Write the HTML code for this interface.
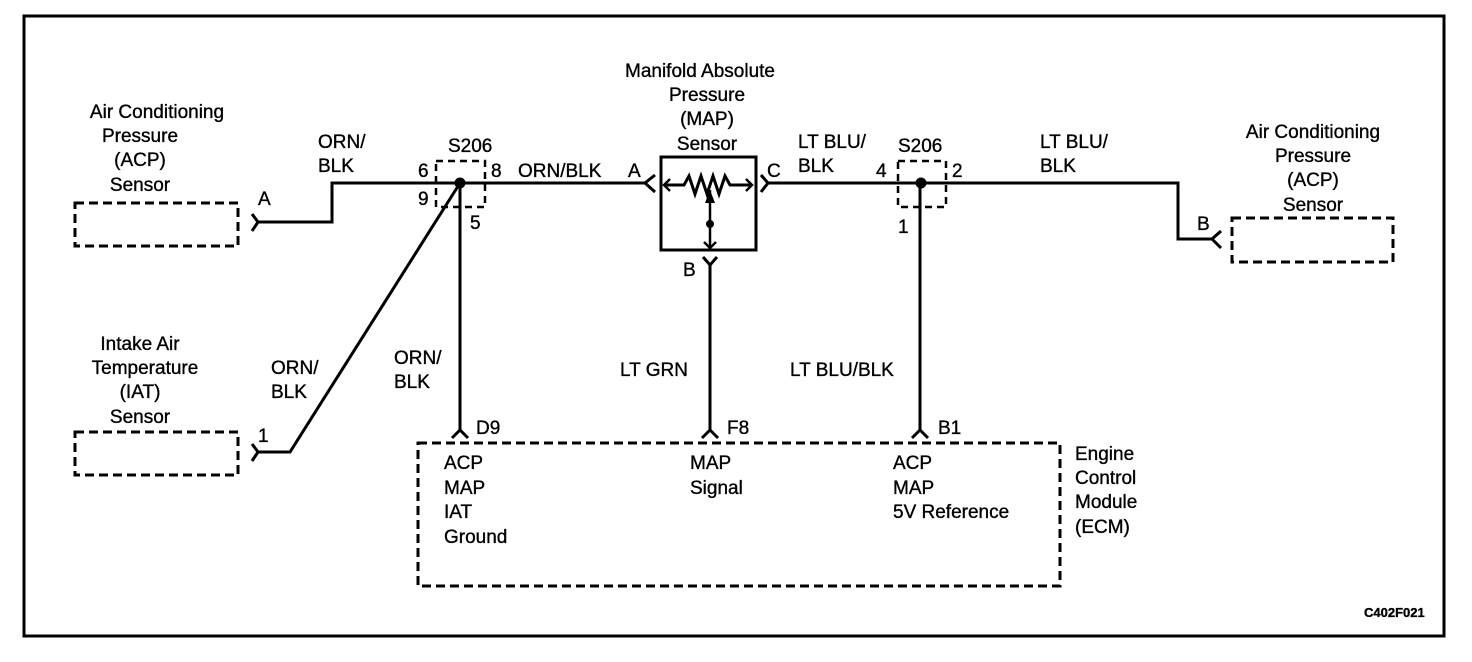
<!DOCTYPE html>
<html><head><meta charset="utf-8"><style>
html,body{margin:0;padding:0;background:#fff}
svg{display:block}
text{font-family:"Liberation Sans",Arial,sans-serif;font-size:19px;fill:#000;stroke:#000;stroke-width:0.35}
.c{text-anchor:middle}
</style></head><body>
<svg width="1472" height="662" viewBox="0 0 1472 662" xmlns="http://www.w3.org/2000/svg">
<rect x="24" y="16" width="1420" height="620" fill="none" stroke="#000" stroke-width="3"/>
<g fill="none" stroke="#000" stroke-width="3" stroke-dasharray="9,5">
<rect x="75" y="203" width="163" height="43"/>
<rect x="75" y="432" width="163" height="43"/>
<rect x="1232" y="218" width="161" height="44"/>
<rect x="418" y="443" width="642" height="143"/>
<rect x="436" y="161" width="49" height="46" stroke-width="2.5" stroke-dasharray="7,5"/>
<rect x="898" y="161" width="48" height="46" stroke-width="2.5" stroke-dasharray="7,5"/>
</g>
<g fill="none" stroke="#000" stroke-width="3">
<polyline points="258,222 332,222 332,183 460,183 645,183"/>
<polyline points="252,214 258,222 252,231"/>
<polyline points="258,452 290,452 460,183"/>
<polyline points="252,444 258,452 252,461"/>
<line x1="460" y1="183" x2="460" y2="430"/>
<polyline points="655,175 645,183 655,192"/>
<rect x="661" y="157" width="95" height="93"/>
<polyline points="664,185 684,185 689,176 695,194 701,176 707,194 713,176 719,194 725,176 730,185 752,185"/>
<polyline points="670,179 664,185 670,191" stroke-width="2.5"/>
<polyline points="746,179 752,185 746,191" stroke-width="2.5"/>
<line x1="710" y1="190" x2="710" y2="248" stroke-width="2.5"/>
<polyline points="704,242 710,248 716,242" stroke-width="2.5"/>
<polyline points="761,175 768,183 761,192"/>
<polyline points="768,183 1178,183 1178,239 1212,239"/>
<polyline points="1221,231 1212,239 1221,248"/>
<line x1="920" y1="183" x2="920" y2="430"/>
<polyline points="703,257 710,265 717,257"/>
<line x1="710" y1="265" x2="710" y2="430"/>
<polyline points="452,438 460,430 468,438"/>
<polyline points="702,438 710,430 718,438"/>
<polyline points="912,438 920,430 928,438"/>
</g>
<polygon points="710,190 705,203 715,203" fill="#000"/>
<circle cx="710" cy="224" r="4" fill="#000"/>
<circle cx="460" cy="183" r="5.5" fill="#000"/>
<circle cx="921" cy="183" r="5.5" fill="#000"/>
<text class="c" x="157" y="118">Air Conditioning</text>
<text class="c" x="140" y="142">Pressure</text>
<text class="c" x="140" y="166">(ACP)</text>
<text class="c" x="140" y="191">Sensor</text>
<text x="258" y="205">A</text>
<text x="318" y="148">ORN/</text>
<text x="318" y="172">BLK</text>
<text x="448" y="152">S206</text>
<text x="418" y="177">6</text>
<text x="491" y="177">8</text>
<text x="418" y="205">9</text>
<text x="470" y="229">5</text>
<text x="518" y="177">ORN/BLK</text>
<text x="628" y="177">A</text>
<text class="c" x="700" y="77">Manifold Absolute</text>
<text class="c" x="707" y="101">Pressure</text>
<text class="c" x="707" y="125">(MAP)</text>
<text class="c" x="707" y="150">Sensor</text>
<text x="767" y="177">C</text>
<text x="798" y="148">LT BLU/</text>
<text x="798" y="172">BLK</text>
<text x="898" y="152">S206</text>
<text x="876" y="177">4</text>
<text x="952" y="177">2</text>
<text x="898" y="233">1</text>
<text x="1040" y="148">LT BLU/</text>
<text x="1040" y="172">BLK</text>
<text x="1197" y="230">B</text>
<text class="c" x="1313" y="138">Air Conditioning</text>
<text class="c" x="1313" y="162">Pressure</text>
<text class="c" x="1313" y="186">(ACP)</text>
<text class="c" x="1313" y="211">Sensor</text>
<text x="683" y="276">B</text>
<text class="c" x="140" y="350">Intake Air</text>
<text class="c" x="145" y="374">Temperature</text>
<text class="c" x="140" y="398">(IAT)</text>
<text class="c" x="140" y="423">Sensor</text>
<text x="258" y="442">1</text>
<text x="271" y="374">ORN/</text>
<text x="271" y="398">BLK</text>
<text x="394" y="364">ORN/</text>
<text x="394" y="388">BLK</text>
<text x="620" y="376">LT GRN</text>
<text x="790" y="376">LT BLU/BLK</text>
<text x="476" y="434">D9</text>
<text x="727" y="434">F8</text>
<text x="938" y="434">B1</text>
<text x="444" y="469">ACP</text>
<text x="444" y="494">MAP</text>
<text x="444" y="518">IAT</text>
<text x="444" y="543">Ground</text>
<text x="690" y="469">MAP</text>
<text x="690" y="494">Signal</text>
<text x="893" y="469">ACP</text>
<text x="893" y="494">MAP</text>
<text x="893" y="518">5V Reference</text>
<text x="1075" y="460">Engine</text>
<text x="1075" y="484">Control</text>
<text x="1075" y="508">Module</text>
<text x="1075" y="533">(ECM)</text>
<text x="1364" y="617" style="font-size:13px;font-weight:bold">C402F021</text>
</svg>
</body></html>
